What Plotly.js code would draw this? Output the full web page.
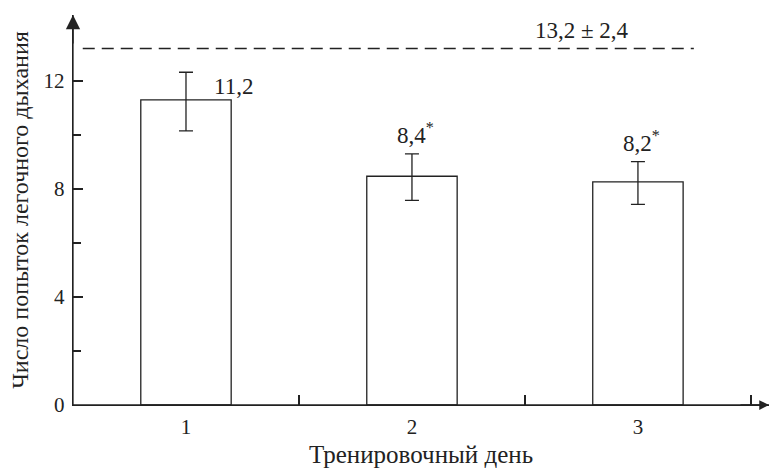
<!DOCTYPE html>
<html><head><meta charset="utf-8">
<script src="https://cdn.plot.ly/plotly-3.0.1.min.js"></script>
<style>body{margin:0;background:#fff}#c{width:770px;height:468px}</style>
</head><body><div id="c"></div>
<script>
const days = [1, 2, 3];
const dayLabels = ['1', '2', '3'];
const attempts = [11.3, 8.47, 8.26];
const errUp = [1.02, 0.83, 0.75];
const errDown = [1.15, 0.89, 0.83];
const valueLabels = ['11,2', '8,4<sup>*</sup>', '8,2<sup>*</sup>'];
const normValue = 13.2;
const normLabel = '13,2 ± 2,4';
const yTicks = [0, 4, 8, 12];
const yMinorTicks = [2, 6, 10];
const xMidTicks = [1.5, 2.5, 3.5];

const fam = "'Liberation Serif', 'Times New Roman', serif";
const tickFont = {family: fam, color: '#222', size: 21};
const labelFont = {family: fam, color: '#222', size: 23};
const titleFont = {family: fam, color: '#222', size: 24};
const xTitleFont = {family: fam, color: '#222', size: 25};

const traces = [{
  type: 'bar', x: days, y: attempts, width: 0.4,
  marker: {color: '#fff', line: {color: '#222', width: 1.3}},
  error_y: {type: 'data', symmetric: false, array: errUp, arrayminus: errDown,
            color: '#222', thickness: 1.3, width: 7},
  hoverinfo: 'none'
}];

const annotations = days.map((d, i) => i === 0 ? {
  x: d, y: attempts[i] + errUp[i], xref: 'x', yref: 'y', text: valueLabels[i],
  showarrow: false, xanchor: 'left', yanchor: 'middle', xshift: 26, yshift: -14, font: labelFont
} : {
  x: d, y: attempts[i] + errUp[i], xref: 'x', yref: 'y', text: valueLabels[i],
  showarrow: false, xanchor: 'center', yanchor: 'bottom', xshift: 4, yshift: 4, font: labelFont
});
annotations.push({x: 0.802, xref: 'paper', y: normValue, yref: 'y', text: normLabel,
  showarrow: false, yanchor: 'bottom', yshift: 3, font: labelFont});
// axis arrows
annotations.push({x: 0, y: 1, xref: 'paper', yref: 'paper', ax: 0, ay: 30, text: '',
  showarrow: true, arrowhead: 2, arrowsize: 2.2, arrowwidth: 1.3, arrowcolor: '#222'});
annotations.push({x: 1, y: 0, xref: 'paper', yref: 'paper', ax: -30, ay: 0, text: '',
  showarrow: true, arrowhead: 2, arrowsize: 1.5, arrowwidth: 1.3, arrowcolor: '#222'});

const layout = {
  width: 770, height: 468,
  margin: {l: 73, r: 1, t: 15, b: 63},
  paper_bgcolor: '#fff', plot_bgcolor: '#fff',
  showlegend: false, font: tickFont,
  xaxis: {range: [0.5, 3.58], tickvals: days, ticktext: dayLabels,
    ticks: 'inside', ticklen: 10, tickcolor: 'rgba(0,0,0,0)',
    minor: {tickvals: xMidTicks, ticks: 'inside', ticklen: 10, tickwidth: 1.3, tickcolor: '#222', showgrid: false},
    showline: true, linecolor: '#222', linewidth: 1.3, showgrid: false, zeroline: false,
    tickfont: tickFont, ticklabelstandoff: 2,
    title: {text: 'Тренировочный день', font: xTitleFont, standoff: 8}},
  yaxis: {range: [0, 14.44], tickvals: yTicks, ticks: 'inside', ticklen: 10, tickwidth: 1.3,
    tickcolor: '#222', showline: true, linecolor: '#222', linewidth: 1.3,
    showgrid: false, zeroline: false, tickfont: tickFont, ticklabelstandoff: 3,
    minor: {tickvals: yMinorTicks, ticks: 'inside', ticklen: 8, tickwidth: 1.3, tickcolor: '#222', showgrid: false},
    title: {text: 'Число попыток легочного дыхания', font: titleFont, standoff: 8}},
  shapes: [
    {type: 'line', xref: 'paper', yref: 'y', x0: 0.014, x1: 0.892, y0: normValue, y1: normValue,
      line: {color: '#222', width: 1.3, dash: '12px,7px'}},
    {type: 'line', xref: 'paper', yref: 'paper', x0: 0, x1: 0, y0: 0, y1: 1, line: {color: '#222', width: 1.3}},
    {type: 'line', xref: 'paper', yref: 'paper', x0: 0, x1: 1, y0: 0, y1: 0, line: {color: '#222', width: 1.3}}
  ],
  annotations: annotations
};
Plotly.newPlot('c', traces, layout, {displayModeBar: false, staticPlot: true});
</script></body></html>
